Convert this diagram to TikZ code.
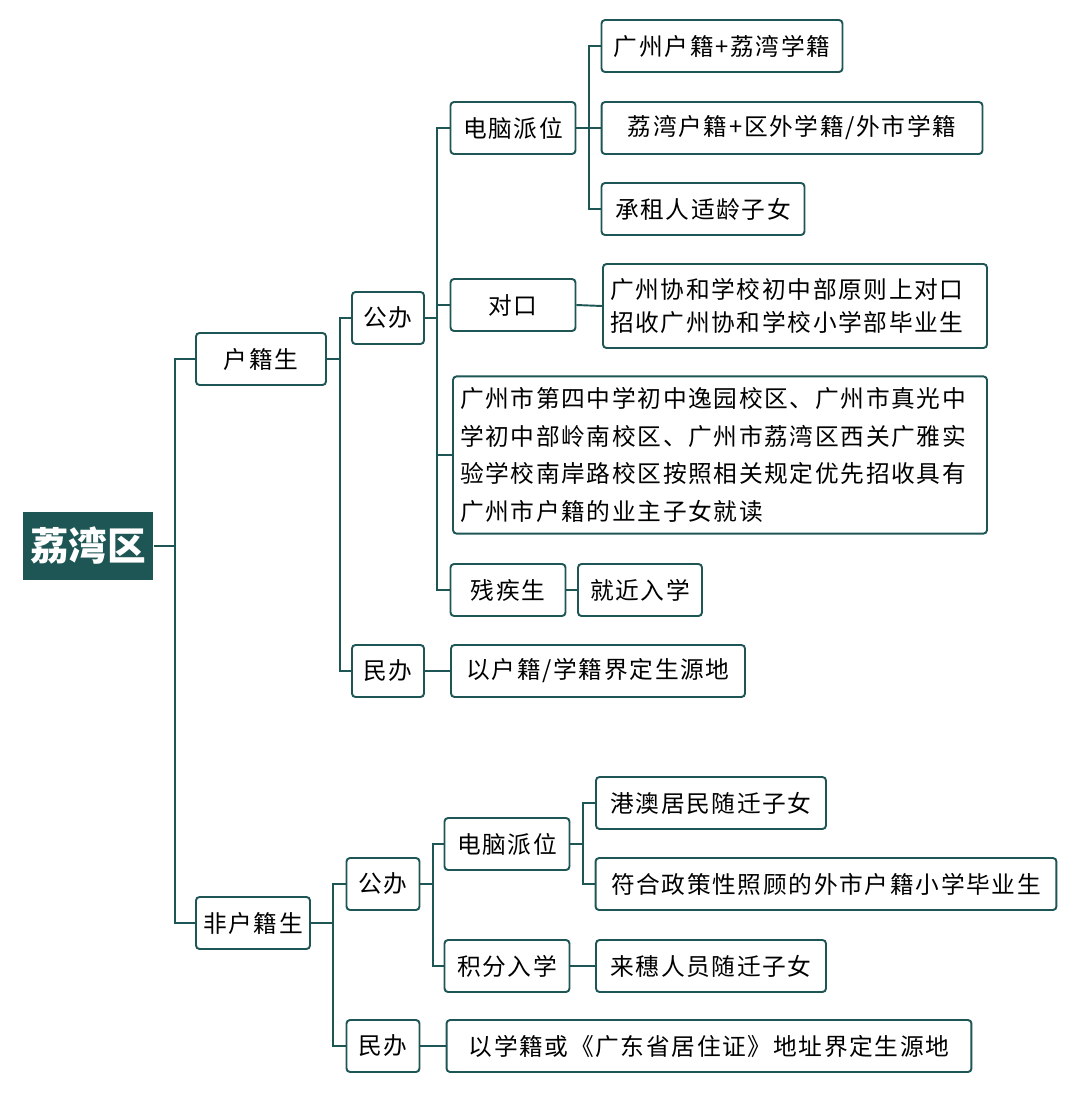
\documentclass[tikz,border=0pt]{standalone}
\usepackage{fontspec}
\setmainfont[LetterSpace=7]{Noto Sans CJK SC}
\newfontfamily\rootfont{Noto Sans CJK SC}
\usetikzlibrary{positioning,calc}
\definecolor{teal1}{HTML}{1D5654}
\begin{document}
\begin{tikzpicture}
	[x=0.02cm,y=-0.02cm,
	bx/.style={draw=teal1,line width=1.1pt,rounded corners=2pt,minimum height=1.04cm,inner xsep=4pt,font=\fontsize{13.5}{19}\selectfont,fill=white},
	rootbx/.style={fill=teal1,text=white,minimum width=2.62cm,minimum height=1.36cm,font=\rootfont\fontsize{22}{24}\selectfont\bfseries},
	ln/.style={draw=teal1,line width=1.1pt}]
	\useasboundingbox (0,0) rectangle (1080,1093);
	%%%%% ROOT AND LEVEL 1
	\node[rootbx] (root) at (88,546) {荔湾区};
	\node[bx,minimum width=2.6cm] (hj) at (261,359) {户籍生};
	\node[bx,minimum width=2.28cm] (fhj) at (253,923) {非户籍生};
	%%%%% LEVEL 2
	\node[bx,minimum width=1.44cm] (gb1) at (388,318) {公办};
	\node[bx,minimum width=1.44cm] (mb1) at (388,671) {民办};
	\node[bx,minimum width=1.46cm] (gb2) at (383,884) {公办};
	\node[bx,minimum width=1.46cm] (mb2) at (383,1046) {民办};
	%%%%% LEVEL 3
	\node[bx,minimum width=2.5cm] (pw1) at (513,128) {电脑派位};
	\node[bx,minimum width=2.5cm] (dk) at (513,305) {对口};
	\node[bx,text width=10.4cm,align=left,font=\fontsize{13.5}{21.6}\selectfont,inner ysep=6pt] (yx) at (720,455)
	{广州市第四中学初中逸园校区、广州市真光中\\学初中部岭南校区、广州市荔湾区西关广雅实\\验学校南岸路校区按照相关规定优先招收具有\\广州市户籍的业主子女就读};
	\node[bx,minimum width=2.3cm] (cj) at (508,590) {残疾生};
	\node[bx,minimum width=2.48cm] (jj) at (640,590) {就近入学};
	\node[bx,minimum width=5.88cm] (yhj) at (598,671) {以户籍/学籍界定生源地};
	\node[bx,minimum width=2.5cm] (pw2) at (507,844) {电脑派位};
	\node[bx,minimum width=2.5cm] (jf) at (507,966) {积分入学};
	\node[bx,minimum width=10.5cm] (yxj) at (709,1046) {以学籍或《广东省居住证》地址界定生源地};
	%%%%% LEVEL 4
	\node[bx,minimum width=4.82cm] (gz) at (722,46) {广州户籍+荔湾学籍};
	\node[bx,minimum width=7.62cm] (lw) at (792,128) {荔湾户籍+区外学籍/外市学籍};
	\node[bx,minimum width=4.06cm] (cz) at (703,209) {承租人适龄子女};
	\node[bx,align=left,text width=7.4cm,minimum height=1.68cm] (xh) at (795,306) {广州协和学校初中部原则上对口\\招收广州协和学校小学部毕业生};
	\node[bx,minimum width=4.6cm] (ga) at (711,803) {港澳居民随迁子女};
	\node[bx,minimum width=9.22cm] (fh) at (826,884) {符合政策性照顾的外市户籍小学毕业生};
	\node[bx,minimum width=4.6cm] (ls) at (711,966) {来穗人员随迁子女};
	%%%%% BUSES
	\coordinate (b0) at (175,0);
	\coordinate (b1) at (340,0);
	\coordinate (b2) at (437,0);
	\coordinate (b3) at (589,0);
	\coordinate (b4) at (333,0);
	\coordinate (b5) at (433,0);
	\coordinate (b6) at (583,0);
	%%%%% CONNECTORS
	\foreach \a/\b/\c in {root/hj/b0,root/fhj/b0,hj/gb1/b1,hj/mb1/b1,gb1/pw1/b2,gb1/dk/b2,gb1/yx/b2,gb1/cj/b2,
		pw1/gz/b3,pw1/lw/b3,pw1/cz/b3,fhj/gb2/b4,fhj/mb2/b4,gb2/pw2/b5,gb2/jf/b5,pw2/ga/b6,pw2/fh/b6}
	\path[ln] (\a.east) -- (\a.east -| \c) |- (\b.west);
	\foreach \a/\b in {dk/xh,cj/jj,mb1/yhj,jf/ls,mb2/yxj}
	\path[ln] (\a.east) -- (\b.west);
\end{tikzpicture}
\end{document}
